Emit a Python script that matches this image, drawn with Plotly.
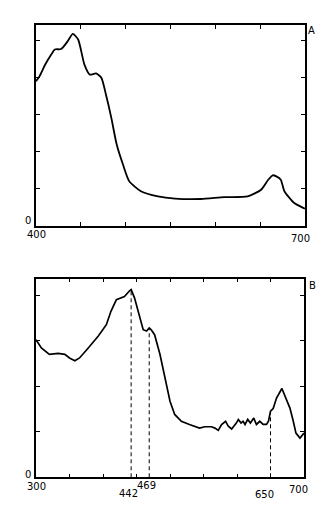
import numpy as np
import plotly.graph_objects as go

# Panel A data (wavelength nm, absorbance)
a_nm = [400, 404, 410, 417, 421, 428, 435, 441, 447, 454, 460, 467, 473, 478, 484, 490,
        497, 504, 517, 536, 555, 584, 610, 636, 651, 659, 664, 668, 673, 677, 688, 698, 700]
a_val = [3.91, 4.05, 4.35, 4.63, 4.77, 4.78, 4.98, 5.19, 5.04, 4.36, 4.09, 4.12, 4.0, 3.55,
         2.92, 2.2, 1.66, 1.21, 0.94, 0.80, 0.74, 0.73, 0.78, 0.80, 0.98, 1.25, 1.37, 1.34,
         1.25, 0.94, 0.62, 0.49, 0.47]

# Panel B data
b_nm = [300, 308, 320, 333, 343, 350, 358, 365, 378, 393, 405, 412, 420, 427, 432, 440, 442,
        447, 452, 460, 465, 469, 472, 477, 485, 492, 500, 507, 517, 529, 544, 552, 562, 567,
        572, 577, 583, 587, 592, 599, 602, 606, 609, 612, 616, 620, 625, 629, 634, 639, 644,
        647, 650, 654, 659, 667, 674, 679, 684, 688, 694, 698, 700]
b_val = [3.02, 2.84, 2.70, 2.72, 2.70, 2.62, 2.56, 2.62, 2.84, 3.10, 3.35, 3.65, 3.90, 3.94,
         3.97, 4.10, 4.12, 3.94, 3.65, 3.24, 3.21, 3.28, 3.24, 3.13, 2.70, 2.18, 1.67, 1.38,
         1.23, 1.16, 1.08, 1.11, 1.11, 1.08, 1.03, 1.16, 1.23, 1.12, 1.06, 1.19, 1.27, 1.19,
         1.23, 1.16, 1.27, 1.19, 1.30, 1.16, 1.23, 1.16, 1.16, 1.23, 1.45, 1.51, 1.74, 1.95,
         1.71, 1.52, 1.23, 0.97, 0.86, 0.93, 0.97]

# Marked wavelengths in panel B
b_marks = [442, 469, 650]
b_mark_labels = ["442", "469", "650"]

a_xticks = [400, 450, 500, 550, 600, 650, 700]
a_yticks = [0, 1, 2, 3, 4, 5]
b_xticks = [300, 350, 400, 450, 500, 550, 600, 650, 700]
b_yticks = [0, 1, 2, 3, 4]
a_range = [400, 700]
b_range = [300, 700]

FONT = "DejaVu Sans"
FS = 10
fig = go.Figure()

fig.add_trace(go.Scatter(x=a_nm, y=a_val, mode="lines",
                         line=dict(color="black", width=1.8, shape="spline", smoothing=0.6),
                         xaxis="x", yaxis="y", showlegend=False, hoverinfo="skip"))
fig.add_trace(go.Scatter(x=b_nm, y=b_val, mode="lines", line=dict(color="black", width=1.7),
                         xaxis="x2", yaxis="y2", showlegend=False, hoverinfo="skip"))
for m in b_marks:
    top = float(np.interp(m, b_nm, b_val))
    fig.add_trace(go.Scatter(x=[m, m], y=[0, top], mode="lines",
                             line=dict(color="black", width=1, dash="4px,3px"),
                             xaxis="x2", yaxis="y2", showlegend=False, hoverinfo="skip"))

ax_common = dict(showline=True, linecolor="black", linewidth=1.5, mirror="ticks", ticks="inside",
                 ticklen=4, tickcolor="black", tickwidth=1.2, showgrid=False, zeroline=False,
                 showticklabels=False)

fig.update_layout(
    width=327, height=508, margin=dict(l=0, r=0, t=0, b=0),
    paper_bgcolor="white", plot_bgcolor="white",
    xaxis=dict(domain=[28/327, 297/327], range=a_range, tickvals=a_xticks, anchor="y", **ax_common),
    yaxis=dict(domain=[1-218/508, 1-17/508], range=[0, 5.43], tickvals=a_yticks, anchor="x", **ax_common),
    xaxis2=dict(domain=[28/327, 296/327], range=b_range, tickvals=b_xticks, anchor="y2", **ax_common),
    yaxis2=dict(domain=[1-469.3/508, 1-270.7/508], range=[0, 4.36], tickvals=b_yticks, anchor="x2", **ax_common),
)

annots = [
    dict(text="A", x=303/327, y=1-22.5/508),
    dict(text="B", x=304/327, y=1-277/508),
    dict(text="0", x=20/327, y=1-213/508),
    dict(text=str(a_range[0]), x=a_range[0], xref="x", y=1-226/508),
    dict(text=str(a_range[1]), x=292/327, y=1-230/508),
    dict(text="0", x=20/327, y=1-466/508),
    dict(text=str(b_range[0]), x=b_range[0], xref="x2", y=1-478.5/508),
    dict(text=str(b_range[1]), x=290/327, y=1-481/508),
]
label_pos = [(120.5, 485), (138.5, 477.5), (256, 486)]
for lab, (lx, ly) in zip(b_mark_labels, label_pos):
    annots.append(dict(text=lab, x=lx/327, y=1-ly/508))
for a in annots:
    a.setdefault("xref", "paper")
    a.update(yref="paper", showarrow=False, xanchor="center", yanchor="middle",
             font=dict(family=FONT, size=FS, color="black"))
fig.update_layout(annotations=annots)

fig.write_html("out.html")
